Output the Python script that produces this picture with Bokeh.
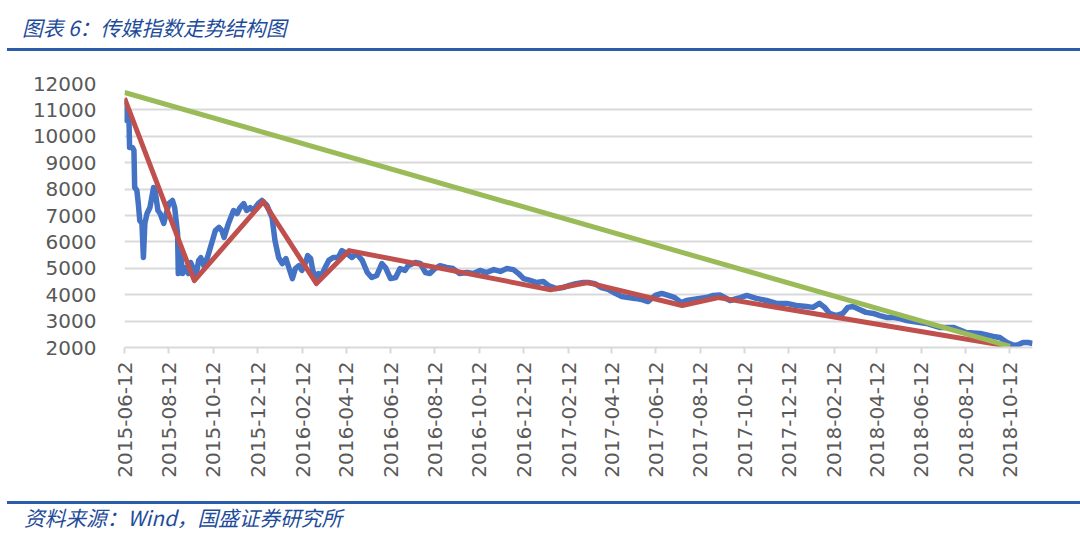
import datetime as dt
import math
from bokeh.plotting import figure
from bokeh.layouts import column
from bokeh.models import (Range1d, FixedTicker, DatetimeTickFormatter, Div,
                          ColumnDataSource)
from bokeh.embed import file_html
from bokeh.resources import INLINE

# ---------------- data ----------------
TITLE = "图表 6：传媒指数走势结构图"
SOURCE = "资料来源：Wind，国盛证券研究所"

x_tick_labels = ["2015-06-12", "2015-08-12", "2015-10-12", "2015-12-12", "2016-02-12",
                 "2016-04-12", "2016-06-12", "2016-08-12", "2016-10-12", "2016-12-12",
                 "2017-02-12", "2017-04-12", "2017-06-12", "2017-08-12", "2017-10-12",
                 "2017-12-12", "2018-02-12", "2018-04-12", "2018-06-12", "2018-08-12",
                 "2018-10-12"]
y_ticks = [2000, 3000, 4000, 5000, 6000, 7000, 8000, 9000, 10000, 11000, 12000]
x_start, x_end = "2015-06-12", "2018-11-12"

index_dates = [
    "2015-06-12", "2015-06-15", "2015-06-18", "2015-06-19", "2015-06-23", "2015-06-25",
    "2015-06-26", "2015-06-29", "2015-07-01", "2015-07-03", "2015-07-06", "2015-07-08",
    "2015-07-10", "2015-07-13", "2015-07-17", "2015-07-22", "2015-07-24", "2015-07-28",
    "2015-07-31", "2015-08-05", "2015-08-07", "2015-08-12", "2015-08-17", "2015-08-20",
    "2015-08-24", "2015-08-25", "2015-08-28", "2015-08-31", "2015-09-04", "2015-09-08",
    "2015-09-11", "2015-09-14", "2015-09-18", "2015-09-22", "2015-09-25", "2015-09-29",
    "2015-10-04", "2015-10-11", "2015-10-15", "2015-10-20", "2015-10-24", "2015-10-27",
    "2015-11-02", "2015-11-09", "2015-11-14", "2015-11-18", "2015-11-23", "2015-11-27",
    "2015-12-02", "2015-12-06", "2015-12-13", "2015-12-18", "2015-12-25", "2016-01-01",
    "2016-01-05", "2016-01-10", "2016-01-15", "2016-01-20", "2016-01-24", "2016-01-29",
    "2016-02-02", "2016-02-07", "2016-02-11", "2016-02-16", "2016-02-19", "2016-02-23",
    "2016-02-26", "2016-03-01", "2016-03-05", "2016-03-09", "2016-03-14", "2016-03-19",
    "2016-03-25", "2016-04-01", "2016-04-06", "2016-04-13", "2016-04-20", "2016-04-26",
    "2016-05-04", "2016-05-11", "2016-05-17", "2016-05-24", "2016-05-31", "2016-06-05",
    "2016-06-12", "2016-06-19", "2016-06-25", "2016-07-02", "2016-07-06", "2016-07-16",
    "2016-07-23", "2016-07-30", "2016-08-05", "2016-08-12", "2016-08-19", "2016-08-28",
    "2016-09-06", "2016-09-15", "2016-09-25", "2016-10-04", "2016-10-13", "2016-10-22",
    "2016-11-01", "2016-11-10", "2016-11-19", "2016-11-28", "2016-12-05", "2016-12-12",
    "2016-12-21", "2016-12-30", "2017-01-08", "2017-01-15", "2017-01-26", "2017-02-04",
    "2017-02-13", "2017-02-22", "2017-03-04", "2017-03-11", "2017-03-20", "2017-03-29",
    "2017-04-07", "2017-04-17", "2017-04-26", "2017-05-05", "2017-05-14", "2017-05-23",
    "2017-06-01", "2017-06-11", "2017-06-20", "2017-06-29", "2017-07-08", "2017-07-17",
    "2017-07-24", "2017-08-02", "2017-08-11", "2017-08-20", "2017-08-30", "2017-09-08",
    "2017-09-22", "2017-10-06", "2017-10-15", "2017-10-28", "2017-11-11", "2017-11-25",
    "2017-12-09", "2017-12-22", "2018-01-05", "2018-01-14", "2018-01-23", "2018-01-30",
    "2018-02-06", "2018-02-15", "2018-02-24", "2018-03-03", "2018-03-10", "2018-03-19",
    "2018-03-28", "2018-04-07", "2018-04-16", "2018-04-25", "2018-05-04", "2018-05-13",
    "2018-05-23", "2018-06-01", "2018-06-19", "2018-07-07", "2018-07-26", "2018-08-13",
    "2018-09-01", "2018-09-19", "2018-09-28", "2018-10-08", "2018-10-17", "2018-10-24",
    "2018-10-30", "2018-11-06", "2018-11-12"]
index_values = [
    11400, 10600, 10860, 9575, 9575, 9460,
    8060, 7950, 7450, 6810, 6700, 5410,
    6700, 7075, 7300, 8060, 7950, 7190,
    7075, 6700, 6920, 7450, 7570, 7300,
    6320, 4800, 5560, 4800, 5030, 4800,
    5220, 5030, 4650, 5300, 5400, 5100,
    5400, 6050, 6430, 6550, 6430, 6170,
    6700, 7190, 7075, 7300, 7450, 7190,
    7300, 7190, 7450, 7570, 7380, 6920,
    6050, 5410, 5180, 5370, 5030, 4610,
    4990, 5100, 4920, 5220, 5480, 5370,
    4920, 4650, 4800, 4730, 5030, 5300,
    5410, 5410, 5670, 5560, 5410, 5560,
    5300, 4840, 4650, 4730, 5180, 5030,
    4610, 4650, 4990, 4920, 5100, 5220,
    5180, 4840, 4800, 4990, 5100, 5030,
    4990, 4800, 4840, 4800, 4920, 4840,
    4950, 4880, 4990, 4950, 4800, 4610,
    4540, 4460, 4500, 4350, 4230, 4270,
    4350, 4420, 4460, 4460, 4420, 4270,
    4200, 4050, 3930, 3890, 3860, 3820,
    3740, 3970, 4050, 3970, 3890, 3700,
    3780, 3820, 3860, 3890, 3970, 3990,
    3780, 3890, 3970, 3860, 3780, 3670,
    3670, 3590, 3550, 3520, 3670, 3520,
    3290, 3210, 3290, 3520, 3550, 3440,
    3330, 3290, 3210, 3140, 3140, 3100,
    3020, 2980, 2910, 2760, 2760, 2570,
    2530, 2420, 2380, 2190, 2080, 2110,
    2190, 2190, 2150]

wave_dates = ["2015-06-12", "2015-09-16", "2015-12-20", "2016-03-02", "2016-04-16",
              "2017-01-18", "2017-03-10", "2017-07-18", "2017-09-06", "2018-10-12"]
wave_values = [11450, 4530, 7530, 4420, 5670, 4190, 4460, 3590, 3890, 2040]

trend_dates = ["2015-06-12", "2018-10-12"]
trend_values = [11660, 2040]

# ---------------- helpers ----------------
EPOCH = dt.datetime(1970, 1, 1)


def parse(s):
    return dt.datetime.strptime(s, "%Y-%m-%d")


def ms(s):
    return (parse(s) - EPOCH).total_seconds() * 1000.0


W, H = 1080, 544
HEAD_H = 52          # header strip (title + rule)
FIG_TOP = HEAD_H
FIG_H = 446          # figure from y=52 to y=498
FOOT_H = H - HEAD_H - FIG_H
FL, FT, FR, FB = 124, 83, 1032, 347   # frame edges in page pixels

BLUE = "#4472C4"
RED = "#C0504D"
GREEN = "#9BBB59"
GRID = "#D9D9D9"
LABEL = "#595959"
NAVY = "#1E4C9A"
RULE = "#2A5CAA"

p = figure(width=W, height=FIG_H, output_backend="svg", toolbar_location=None,
           x_axis_type="datetime",
           x_range=Range1d(start=parse(x_start), end=parse(x_end)),
           y_range=Range1d(start=2000, end=12000),
           min_border_left=FL, min_border_right=W - FR,
           min_border_top=FT - FIG_TOP, min_border_bottom=FIG_TOP + FIG_H - FB)
p.outline_line_color = None
p.background_fill_color = "white"
p.border_fill_color = "white"
p.margin = (0, 0, 0, 0)

p.xgrid.grid_line_color = None
p.ygrid.grid_line_color = GRID
p.ygrid.grid_line_width = 2

# y axis
p.yaxis.ticker = FixedTicker(ticks=y_ticks)
p.yaxis.axis_line_color = None
p.yaxis.major_tick_line_color = None
p.yaxis.minor_tick_line_color = None
p.yaxis.major_label_text_font = "DejaVu Sans"
p.yaxis.major_label_text_font_size = "20px"
p.yaxis.major_label_text_color = LABEL
p.yaxis.major_label_standoff = 22

# x axis
p.xaxis.ticker = FixedTicker(ticks=[ms(s) for s in x_tick_labels])
fmt = "%Y-%m-%d"
p.xaxis.formatter = DatetimeTickFormatter(
    microseconds=fmt, milliseconds=fmt, seconds=fmt, minsec=fmt, minutes=fmt,
    hourmin=fmt, hours=fmt, days=fmt, months=fmt, years=fmt)
p.xaxis.axis_line_color = GRID
p.xaxis.axis_line_width = 2
p.xaxis.major_tick_line_color = GRID
p.xaxis.major_tick_line_width = 2
p.xaxis.major_tick_in = 0
p.xaxis.major_tick_out = 6
p.xaxis.minor_tick_line_color = None
p.xaxis.major_label_orientation = math.pi / 2
p.xaxis.major_label_text_font = "DejaVu Sans"
p.xaxis.major_label_text_font_size = "20px"
p.xaxis.major_label_text_color = LABEL
p.xaxis.major_label_standoff = 8

src_idx = ColumnDataSource(dict(x=[parse(s) for s in index_dates], y=index_values))
src_wave = ColumnDataSource(dict(x=[parse(s) for s in wave_dates], y=wave_values))
src_trend = ColumnDataSource(dict(x=[parse(s) for s in trend_dates], y=trend_values))

p.line("x", "y", source=src_idx, line_color=BLUE, line_width=5.5, line_join="round")
p.line("x", "y", source=src_wave, line_color=RED, line_width=5, line_join="round")
p.line("x", "y", source=src_trend, line_color=GREEN, line_width=5)

# header / footer strips
TXT = ("position:absolute;white-space:nowrap;font-family:'Noto Sans CJK SC';"
       f"font-style:italic;font-size:20.7px;line-height:24px;color:{NAVY};")
header = Div(width=W, height=HEAD_H, margin=(0, 0, 0, 0),
             text=(f'<div style="position:relative;width:{W}px;height:{HEAD_H}px;">'
                   f'<div style="{TXT}left:22px;top:15px;">{TITLE}</div>'
                   f'<div style="position:absolute;left:7px;top:48px;width:{W - 7}px;'
                   f'height:3px;background:{RULE};"></div></div>'))
footer = Div(width=W, height=FOOT_H, margin=(0, 0, 0, 0),
             text=(f'<div style="position:relative;width:{W}px;height:{FOOT_H}px;">'
                   f'<div style="position:absolute;left:7px;top:3px;width:{W - 7}px;'
                   f'height:3px;background:{RULE};"></div>'
                   f'<div style="{TXT}left:24px;top:7px;">{SOURCE}</div></div>'))

layout = column(header, p, footer, spacing=0, margin=(0, 0, 0, 0))

open("out.html", "w").write(file_html(layout, INLINE))
